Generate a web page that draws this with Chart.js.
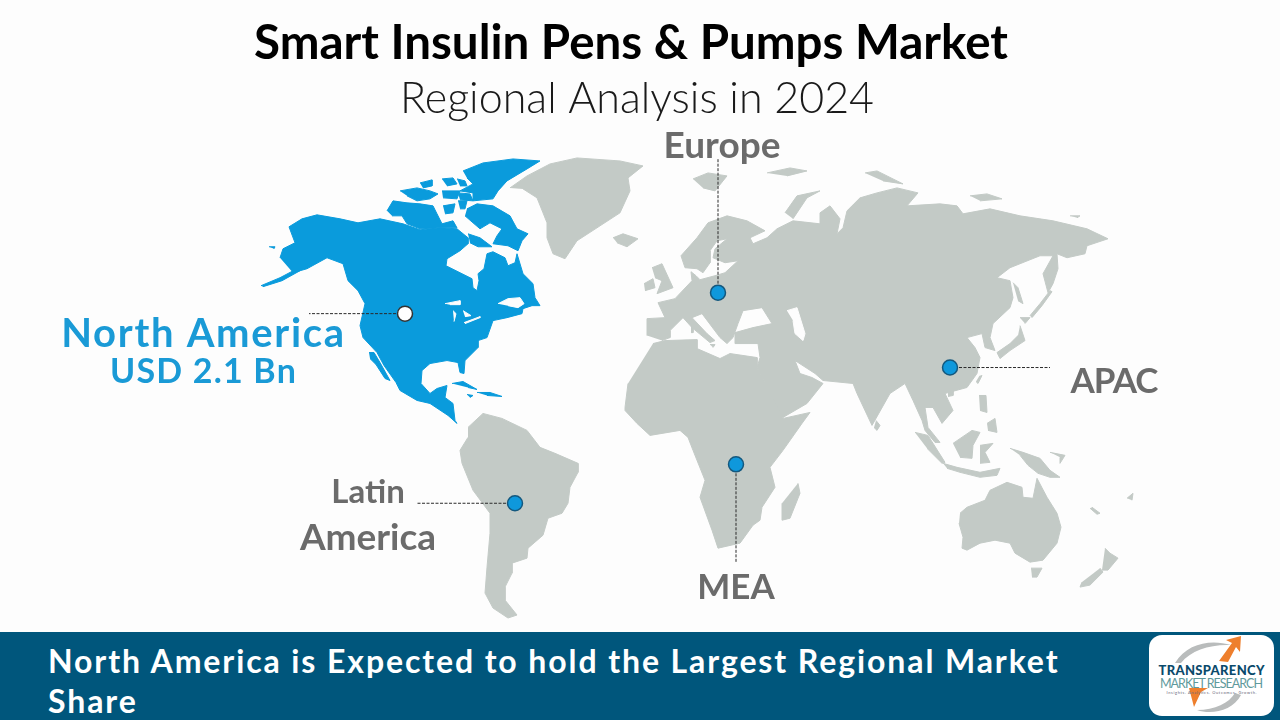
<!DOCTYPE html>
<html><head><meta charset="utf-8">
<script src="https://cdn.jsdelivr.net/npm/chart.js@4"></script>
<style>
html,body{margin:0;padding:0;width:1280px;height:720px;overflow:hidden;background:#fdfdfd}
#wrap{position:absolute;left:0;top:0;width:1280px;height:632px}
#banner{position:absolute;left:0;top:632px;width:1280px;height:88px;background:#00567c}
#banner p{position:absolute;left:48px;top:9px;margin:0;width:1040px;color:#fff;font:700 32px/40px Lato,sans-serif;letter-spacing:1.9px}
#logo{position:absolute;left:1149px;top:3px;width:125px;height:81px;background:#fff;border-radius:13px;overflow:hidden}
#logo svg{position:absolute;left:0;top:0}
</style></head><body>
<div id="wrap"><canvas id="c" width="1280" height="632"></canvas></div>
<div id="banner"><p>North America is Expected to hold the Largest Regional Market Share</p>
<div id="logo"><svg width="125" height="81" viewBox="0 0 125 81">
<path d="M26 28 C38 8 62 4 82 10 C62 9 42 15 32 28Z" fill="#b9bcbc"/>
<path d="M92 60 C84 76 62 80 48 75 C66 75 80 68 86 58Z" fill="#b9bcbc"/>
<path d="M70 26 L83 8 L77 5 L92 1 L91 17 L87 12 L79 27Z" fill="#ee7f2d"/>
<path d="M45 72 L40 53 L59 53 L52 57 Z" fill="#ee7f2d"/>
<text x="62.5" y="40" text-anchor="middle" font-family="Lato,sans-serif" font-weight="900" font-size="13" fill="#0b4a6b" textLength="106">TRANSPARENCY</text>
<text x="62.5" y="53" text-anchor="middle" font-family="Lato,sans-serif" font-weight="400" font-size="12.5" fill="#5f9a9c" textLength="103">MARKET RESEARCH</text>
<text x="62.5" y="59" text-anchor="middle" font-family="Lato,sans-serif" font-size="4" fill="#667" textLength="90">Insights. Analytics. Outcomes. Growth.</text>
</svg></div></div>
<script>
const chartTitle = 'Smart Insulin Pens & Pumps Market';
const chartSubtitle = 'Regional Analysis in 2024';

// North America, blue (map coordinates)
const naMainland = [[280,257],[283,248],[295,242],[289,226],[302,218],[317,214],[340,218],[358,222],[380,218],[403,223],[420,229],[440,227],[457,228],[468,237],[468,243],[460,250],[447,258],[446,265],[460,272],[472,278],[473,287],[477,290],[479,280],[478,273],[484,268],[487,253],[493,251],[505,257],[508,265],[515,262],[517,253],[523,273],[533,283],[535,297],[540,305],[532,305],[523,308],[522,313],[507,317],[493,320],[487,337],[478,340],[478,347],[465,360],[464,373],[460,372],[458,362],[447,360],[430,363],[422,370],[421,383],[430,393],[437,388],[447,385],[445,397],[453,403],[455,420],[457,423],[448,415],[430,403],[417,400],[400,390],[396,382],[384,365],[377,352],[363,337],[360,325],[365,303],[358,290],[348,280],[343,263],[327,257],[307,268],[293,272]];
const naBaja = [[369,352],[374,352],[380,362],[390,380],[385,378],[376,364],[370,358]];
const naAleutians = [[261,285],[280,277],[297,268],[300,270],[282,280],[263,286]];
const naKodiak = [[269,246],[275,246],[274,248]];
const naBaffin = [[467,208],[477,203],[493,205],[510,215],[517,228],[528,233],[522,240],[518,250],[508,245],[493,243],[497,235],[502,228],[490,222],[480,228],[473,222],[465,215]];
const naMelville = [[468,233],[480,237],[492,246],[478,246],[470,242]];
const naEllesmere = [[463,170],[483,162],[513,158],[540,160],[527,168],[507,180],[498,190],[493,198],[473,200],[473,192],[460,190],[473,183],[467,177]];
const naVictoria = [[387,210],[393,200],[407,202],[420,203],[433,205],[437,213],[442,223],[453,220],[457,227],[440,227],[420,228],[407,223],[402,215],[392,215]];
const naIsleA = [[400,190],[417,187],[430,190],[438,193],[430,198],[417,200],[407,195]];
const naIsleB = [[420,182],[432,179],[432,185],[423,187]];
const naIsleC = [[442,178],[453,177],[457,183],[447,185]];
const naIsleD = [[442,190],[460,190],[457,198],[443,197]];
const naIsleE = [[457,178],[465,180],[467,185],[460,185]];
const naIsleF = [[443,205],[455,203],[453,212],[445,213]];
const naIsleG = [[458,200],[467,200],[465,208],[460,208]];
const naIsleH = [[458,192],[470,193],[473,200],[460,199]];
const naCuba = [[452,383],[463,381],[477,389],[468,387]];
const naHispaniola = [[477,392],[490,392],[502,396],[487,395]];
const naJamaica = [[467,394],[473,395],[470,397]];
const blueShapes = [naMainland,naBaja,naAleutians,naKodiak,naBaffin,naMelville,naEllesmere,naVictoria,naIsleA,naIsleB,naIsleC,naIsleD,naIsleE,naIsleF,naIsleG,naIsleH,naCuba,naHispaniola,naJamaica];

// Water inside North America
const lakeSuperior = [[445,303],[460,300],[460,304],[450,304]];
const lakeMichigan = [[453,310],[456,313],[454,321]];
const lakeHuron = [[463,310],[471,315],[465,316]];
const lakeErie = [[464,322],[480,316],[480,317],[465,323]];
const gulfStLawrence = [[498,303],[508,298],[520,297],[524,303],[518,307],[508,305]];

// Rest of the world, grey
const greenland = [[510,187],[527,175],[550,163],[577,157],[620,160],[643,165],[628,177],[630,190],[620,212],[597,227],[577,240],[565,258],[553,253],[547,237],[547,222],[543,212],[537,197],[523,188]];
const iceland = [[613,237],[623,233],[638,238],[627,246],[617,242]];
const eurasia = [[647,335],[647,318],[665,317],[658,302],[675,298],[692,280],[691,271],[696,275],[700,279],[715,275],[725,272],[738,260],[725,262],[713,257],[715,248],[727,238],[717,240],[710,250],[710,262],[703,272],[697,268],[685,267],[681,255],[697,237],[708,222],[727,215],[747,220],[765,230],[750,237],[753,243],[767,237],[777,228],[793,220],[820,223],[820,212],[830,205],[840,218],[837,233],[843,227],[847,210],[860,197],[877,192],[897,187],[918,192],[907,205],[940,203],[957,205],[963,213],[990,208],[1020,215],[1053,220],[1087,228],[1108,238],[1087,245],[1085,253],[1067,257],[1057,253],[1058,268],[1053,283],[1048,292],[1043,273],[1053,255],[1040,255],[1010,267],[997,277],[1010,280],[1013,297],[1010,307],[993,323],[990,337],[995,350],[985,347],[982,333],[967,337],[975,347],[980,357],[977,373],[967,387],[945,393],[953,410],[942,423],[933,407],[925,407],[928,427],[940,442],[935,442],[925,430],[922,420],[913,400],[905,383],[890,393],[872,425],[857,393],[853,383],[823,380],[815,373],[795,360],[800,373],[812,377],[823,383],[807,403],[783,417],[757,367],[760,357],[758,343],[735,343],[735,332],[753,327],[772,323],[762,307],[743,310],[738,323],[733,337],[727,343],[720,337],[702,313],[692,317],[707,333],[715,340],[710,342],[692,327],[683,317],[670,330],[670,337],[662,340]];
const britain = [[652,267],[662,263],[673,287],[657,293],[662,280],[655,277]];
const ireland = [[644,283],[653,278],[655,287],[645,290]];
const svalbard = [[693,178],[708,172],[727,175],[715,190],[703,187]];
const franzJosef = [[767,172],[790,167],[807,170],[787,175]];
const novayaZemlya = [[785,212],[797,195],[820,190],[807,197],[793,218]];
const severnaya = [[865,172],[877,170],[903,183],[883,180]];
const newSiberian = [[970,195],[987,193],[1002,198],[980,200]];
const wrangel = [[1070,215],[1080,215],[1077,217]];
const honshu = [[1020,325],[1025,340],[1010,350],[1000,358],[997,352],[1010,343],[1018,335]];
const hokkaido = [[1020,317],[1030,317],[1025,323]];
const sakhalin = [[1013,282],[1018,287],[1023,303],[1018,300]];
const kurils = [[1030,315],[1040,303],[1050,290],[1052,291],[1042,305],[1032,317]];
const taiwan = [[979,376],[982,375],[978,383],[976,381]];
const hainan = [[948,390],[953,388],[953,395],[948,396]];
const sriLanka = [[876,420],[880,425],[877,430],[874,427]];
const sardinia = [[691,320],[693,320],[693,332],[691,332]];
const sicily = [[710,344],[715,344],[713,347]];
const africa = [[653,343],[665,340],[697,339],[697,348],[720,358],[730,353],[757,357],[757,367],[782,412],[783,418],[810,412],[802,423],[783,450],[770,467],[775,487],[762,507],[760,520],[753,525],[740,543],[718,548],[712,530],[700,497],[705,480],[693,450],[688,437],[680,430],[650,435],[637,423],[625,410],[625,407],[628,383]];
const madagascar = [[798,483],[800,493],[790,518],[782,520],[782,503]];
const southAmerica = [[468,427],[483,413],[502,418],[527,430],[540,447],[555,453],[578,463],[578,472],[570,487],[568,503],[562,513],[548,518],[543,535],[528,548],[527,558],[512,563],[512,573],[505,587],[505,600],[517,615],[508,618],[493,608],[485,593],[487,567],[490,533],[490,513],[473,490],[462,463],[460,450],[468,437]];
const australia = [[960,513],[967,507],[985,500],[990,490],[1007,482],[1022,487],[1023,497],[1033,498],[1037,478],[1047,497],[1057,513],[1061,527],[1057,543],[1043,560],[1030,562],[1015,553],[1010,543],[995,540],[980,543],[967,550],[962,548],[963,537],[959,523]];
const tasmania = [[1031,568],[1042,568],[1037,577],[1032,577]];
const nzNorth = [[1105,548],[1110,553],[1118,558],[1108,570],[1102,570]];
const nzSouth = [[1100,568],[1103,572],[1090,585],[1080,587],[1082,582]];
const newGuinea = [[1010,448],[1023,452],[1040,458],[1050,470],[1060,477],[1050,477],[1038,473],[1028,465],[1020,455]];
const borneo = [[953,443],[972,430],[980,432],[973,445],[972,458],[960,457]];
const sumatra = [[915,432],[928,435],[945,462],[942,463],[927,448]];
const java = [[943,463],[957,467],[980,472],[1000,468],[997,475],[980,477],[960,472],[947,468]];
const sulawesi = [[980,445],[993,443],[985,452],[990,462],[980,463]];
const luzon = [[979,395],[986,395],[987,412],[980,410]];
const mindanao = [[987,423],[995,418],[997,432],[988,430]];
const solomon = [[1050,452],[1065,455],[1060,463],[1060,457]];
const fiji = [[1127,498],[1133,493],[1132,500]];
const newCaledonia = [[1092,507],[1100,513],[1097,514],[1090,508]];
const greyShapes = [greenland,iceland,eurasia,britain,ireland,svalbard,franzJosef,novayaZemlya,severnaya,newSiberian,wrangel,honshu,hokkaido,sakhalin,kurils,taiwan,hainan,sriLanka,sardinia,sicily,africa,madagascar,southAmerica,australia,tasmania,nzNorth,nzSouth,newGuinea,borneo,sumatra,java,sulawesi,luzon,mindanao,solomon,fiji,newCaledonia];

// Water inside Eurasia
const caspian = [[787,310],[797,307],[805,333],[803,340],[795,333],[793,320]];
const waterShapes = [lakeSuperior,lakeMichigan,lakeHuron,lakeErie,gulfStLawrence,caspian];

// Region markers and their leader lines
const regionNames = ['North America','Europe','APAC','Latin America','MEA'];
const markerX = [405,718,950,515,736];
const markerY = [313,292,367,503,464];
const leaderEndX = [309,718,1050,416,736];
const leaderEndY = [313,158,367,503,563];

// Region captions
const captionLines = ['North America','USD 2.1 Bn','Europe','APAC','Latin','America','MEA'];
const captionX = [203.5,203.5,722,1114,368,368,736];
const captionY = [333,372,145,381,492,538,588];
const captionSize = [40,34,37,35,33,37,35];
const captionSpacing = [1.7,1.2,0,-1,0,0,0];
const captionBlue = [true,true,false,false,false,false,false];

const MAP_TOP = 132, MAP_BOTTOM = 632, BLUE='#0a9bdc', GREY='#c3cac6', BG='#fdfdfd';
const toXY = s => s.map(p => ({x:p[0], y:p[1]}));
const shape = (s,c,o) => ({type:'scatter',order:o,data:toXY(s),showLine:true,fill:'shape',backgroundColor:c,borderColor:c,borderWidth:1,pointRadius:0,pointHoverRadius:0});

// Larger order values are painted first.
const datasets = [
  ...greyShapes.map(s=>shape(s,GREY,5)),
  ...blueShapes.map(s=>shape(s,BLUE,4)),
  ...waterShapes.map(s=>shape(s,BG,3)),
  ...regionNames.map((n,i)=>({type:'scatter',order:2,label:n+' leader',data:[{x:markerX[i],y:markerY[i]},{x:leaderEndX[i],y:leaderEndY[i]}],showLine:true,fill:false,borderColor:'#2b2b2b',borderWidth:1,borderDash:[3,1.5],pointRadius:0})),
  {type:'scatter',order:1,label:'Regions',data:regionNames.map((n,i)=>({x:markerX[i],y:markerY[i]})),showLine:false,
   pointRadius:7.5,pointBorderWidth:1.5,
   pointBackgroundColor:regionNames.map((n,i)=>i===0?'#ffffff':'#0f98dc'),
   pointBorderColor:regionNames.map((n,i)=>i===0?'#333333':'#14587e')}
];

const captions = {id:'captions',
  afterLayout(chart){ // the title block is centred a little left of the canvas centre
    chart.boxes.forEach(b=>{ if(b.options&&b.options.text===chartTitle){b.left-=9;b.right-=9;}
      if(b.options&&b.options.text===chartSubtitle){b.left-=3;b.right-=3;} });
  },
  afterDatasetsDraw(chart){
    const {ctx,scales:{x,y}}=chart;
    ctx.save();ctx.textAlign='center';ctx.textBaseline='middle';
    captionLines.forEach((t,i)=>{
      ctx.font='700 '+captionSize[i]+'px Lato, sans-serif';
      ctx.letterSpacing=captionSpacing[i]+'px';
      ctx.fillStyle=captionBlue[i]?'#1a9ad6':'#6b6b6b';
      ctx.fillText(t,x.getPixelForValue(captionX[i]),y.getPixelForValue(captionY[i]));
    });
    ctx.restore();
  }};

new Chart(document.getElementById('c'),{
  type:'scatter',
  data:{datasets},
  plugins:[captions],
  options:{
    responsive:false,animation:false,devicePixelRatio:1,
    layout:{padding:0,autoPadding:false},
    plugins:{
      legend:{display:false},tooltip:{enabled:false},
      title:{display:true,text:chartTitle,color:'#000',font:{family:'Lato',weight:'700',size:47.5,lineHeight:1.2},padding:{top:15,bottom:1}},
      subtitle:{display:true,text:chartSubtitle,color:'#1a1a1a',font:{family:'Lato',weight:'300',size:43,lineHeight:1.2},padding:{top:0,bottom:8.4}}
    },
    scales:{
      x:{type:'linear',display:false,min:0,max:1280},
      y:{type:'linear',display:false,reverse:true,min:MAP_TOP,max:MAP_BOTTOM}
    },
    elements:{line:{tension:0}}
  }
});
</script>
</body></html>
